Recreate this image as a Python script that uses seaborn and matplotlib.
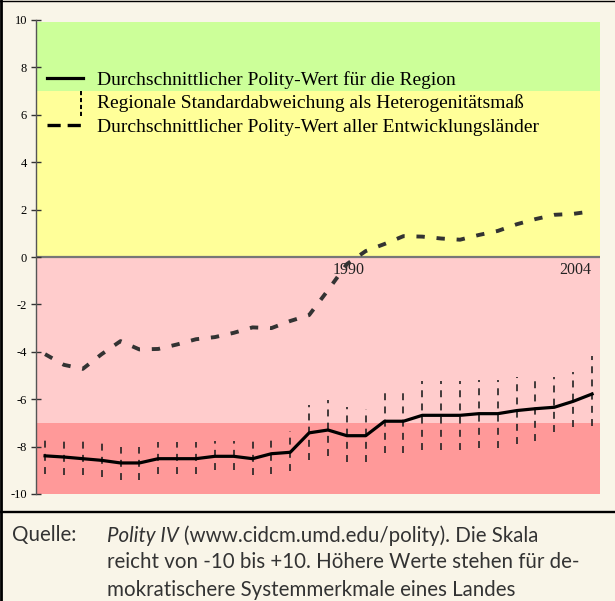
import matplotlib
matplotlib.use("Agg")
import matplotlib.pyplot as plt
import seaborn as sns
import pandas as pd
from matplotlib.lines import Line2D
from matplotlib.legend_handler import HandlerBase

# ---------------- data ----------------
years = list(range(1975, 2005))
region_mean = [-8.39, -8.44, -8.51, -8.58, -8.69, -8.69, -8.51, -8.51, -8.51, -8.41,
               -8.41, -8.51, -8.30, -8.24, -7.42, -7.30, -7.54, -7.54, -6.93, -6.93,
               -6.68, -6.68, -6.68, -6.61, -6.61, -6.48, -6.40, -6.34, -6.09, -5.78]
sd_high = [-7.50, -7.55, -7.75, -7.81, -8.00, -8.00, -7.81, -7.81, -7.81, -7.75,
           -7.75, -7.75, -7.50, -7.36, -6.24, -6.05, -6.31, -6.42, -5.62, -5.62,
           -5.24, -5.24, -5.24, -5.17, -5.17, -5.06, -5.06, -5.06, -4.87, -4.16]
sd_low = [-9.14, -9.21, -9.20, -9.27, -9.39, -9.39, -9.14, -9.14, -9.14, -9.00,
          -9.00, -9.20, -9.14, -9.03, -8.57, -8.39, -8.64, -8.64, -8.27, -8.27,
          -8.13, -8.13, -8.13, -8.07, -8.07, -7.90, -7.76, -7.38, -7.17, -7.12]
dev_mean = [-4.10, -4.55, -4.72, -4.10, -3.55, -3.90, -3.88, -3.69, -3.47, -3.38,
            -3.20, -2.97, -3.00, -2.70, -2.45, -1.40, -0.30, 0.25, 0.55, 0.88,
            0.86, 0.78, 0.73, 0.93, 1.10, 1.38, 1.60, 1.78, 1.82, 1.93]

y_ticks = [10, 8, 6, 4, 2, 0, -2, -4, -6, -8, -10]
y_tick_labels = ["10", "8", "6", "4", "2", "0", "-2", "-4", "-6", "-8", "-10"]
year_labels = ["1990", "2004"]
year_label_pos = [1991.1, 2003.1]

bands = [(7, 9.9, "#CCFF99"), (0, 7, "#FFFF99"), (-7, 0, "#FFCCCC"), (-10, -7, "#FF9999")]

legend_labels = ["Durchschnittlicher Polity-Wert für die Region",
                 "Regionale Standardabweichung als Heterogenitätsmaß",
                 "Durchschnittlicher Polity-Wert aller Entwicklungsländer"]

caption_head = "Quelle:"
caption_first_italic = "Polity IV"
caption_first_rest = "(www.cidcm.umd.edu/polity). Die Skala"
caption_more = ["reicht von -10 bis +10. Höhere Werte stehen für de-",
                "mokratischere Systemmerkmale eines Landes"]

df = pd.DataFrame({"year": years, "region": region_mean, "dev": dev_mean,
                   "lo": sd_low, "hi": sd_high})

# ---------------- style ----------------
plt.rcParams["lines.scale_dashes"] = False
plt.rcParams["axes.unicode_minus"] = False
serif = ["Liberation Serif", "DejaVu Serif"]
sans = ["Lato", "DejaVu Sans"]

bg = "#F9F5E8"
fig = plt.figure(figsize=(6.15, 6.01), dpi=100, facecolor=bg)
W, H = 615, 601
ax = fig.add_axes([36 / W, 107 / H, 564 / W, 474 / H])
ax.set_facecolor("none")

for lo, hi, c in bands:
    ax.axhspan(lo, hi, color=c, lw=0, zorder=0)

ax.axhline(0, color="#777777", lw=1.6, zorder=1)

ax.vlines(df["year"], df["lo"], df["hi"], colors="#222222", lw=1.2,
          linestyles=[(0, (5, 4.5))], zorder=2)

sns.lineplot(data=df, x="year", y="region", ax=ax, color="black", lw=2.3, zorder=3)
sns.lineplot(data=df, x="year", y="dev", ax=ax, color="#333333", lw=2.8, zorder=3)
ax.lines[-1].set_dashes((6, 8.5))

ax.set_xlim(1974.52, 2004.42)
ax.set_ylim(-10, 10)
ax.set_xlabel("")
ax.set_ylabel("")
ax.set_xticks([])
ax.set_yticks(y_ticks)
ax.set_yticklabels(y_tick_labels, fontfamily=serif, fontsize=9)
ax.tick_params(axis="y", direction="inout", length=7, width=1, color="#333333", pad=3)
for s in ["top", "right", "bottom"]:
    ax.spines[s].set_visible(False)
ax.spines["left"].set_color("#555555")
ax.spines["left"].set_linewidth(1.0)

for lab, xp in zip(year_labels, year_label_pos):
    ax.text(xp, -0.55, lab, ha="center", va="center", fontfamily=serif,
            fontsize=11.5, color="#222222", zorder=2.5)


# ---------------- legend ----------------
class HandlerVDash(HandlerBase):
    def create_artists(self, legend, orig_handle, xdescent, ydescent, width, height,
                       fontsize, trans):
        x = width - xdescent - 1.2
        c = height / 2 - ydescent
        ln = Line2D([x, x], [c - 1.05 * height, c + 0.85 * height])
        ln.update_from(orig_handle)
        ln.set_transform(trans)
        return [ln]


h1 = Line2D([], [], color="black", lw=2.3)
h2 = Line2D([], [], color="black", lw=1.4, linestyle=(0, (3, 2)))
h3 = Line2D([], [], color="black", lw=2.4, linestyle=(0, (9.5, 5)))
leg = ax.legend([h1, h2, h3], legend_labels, loc="upper left",
                bbox_to_anchor=(0.0195, 0.893), borderaxespad=0, borderpad=0,
                frameon=False, handlelength=1.85, handletextpad=0.7,
                labelspacing=0.31, prop={"family": serif, "size": 14},
                handler_map={h2: HandlerVDash()})

# ---------------- frame & caption ----------------
fig.add_artist(Line2D([1.4 / W, 1.4 / W], [0, 1], color="black", lw=2.0))
fig.add_artist(Line2D([0, 1], [1 - 0.6 / H, 1 - 0.6 / H], color="black", lw=1.0))
fig.add_artist(Line2D([0, 1], [(H - 512) / H, (H - 512) / H], color="black", lw=1.7))

base1 = 541.5
step = 27
cfs = 14.8
fig.text(12 / W, (H - base1) / H, caption_head, fontfamily=sans, fontsize=cfs,
         va="baseline", ha="left", color="#333333")
t1 = fig.text(107 / W, (H - base1) / H, caption_first_italic, fontfamily=sans,
              fontsize=cfs, style="italic", va="baseline", ha="left", color="#333333")
fig.canvas.draw()
bb = t1.get_window_extent()
fig.text((bb.x1 + 5) / W, (H - base1) / H, caption_first_rest,
         fontfamily=sans, fontsize=cfs, va="baseline", ha="left", color="#333333")
for i, line in enumerate(caption_more, start=1):
    fig.text(107 / W, (H - base1 - i * step) / H, line, fontfamily=sans, fontsize=cfs,
             va="baseline", ha="left", color="#333333")

fig.savefig("out.png", dpi=100, facecolor=bg)
